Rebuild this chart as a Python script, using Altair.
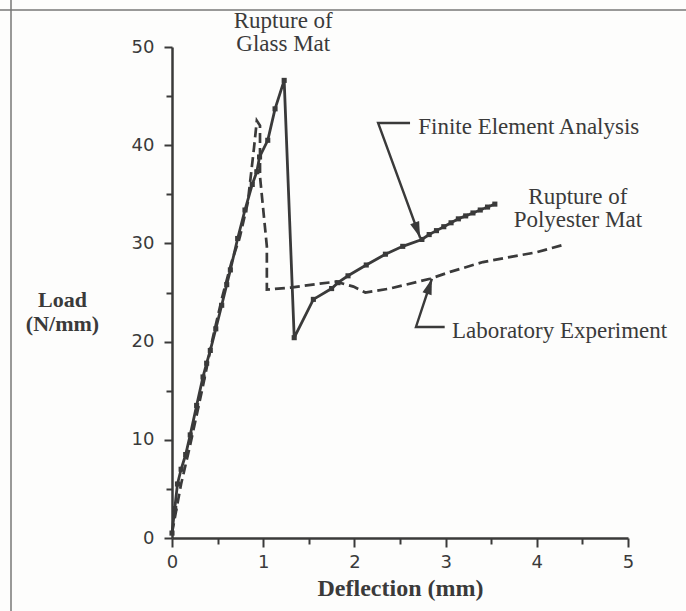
import altair as alt
import pandas as pd

# ---- data ----
fea_x = [0.0, 0.03, 0.06, 0.10, 0.15, 0.20, 0.27, 0.34, 0.38, 0.42, 0.48, 0.545, 0.60, 0.64,
         0.72, 0.80, 0.88, 0.93, 0.96, 1.05, 1.13, 1.23, 1.34, 1.55, 1.75, 1.82, 1.93, 2.13,
         2.34, 2.53, 2.74, 2.82, 2.90, 2.98, 3.06, 3.14, 3.22, 3.30, 3.38, 3.46, 3.54]
fea_y = [0.5, 3.0, 5.5, 7.0, 8.5, 10.5, 13.5, 16.4, 17.8, 19.1, 21.3, 23.7, 25.8, 27.3,
         30.5, 33.4, 36.0, 37.3, 38.8, 40.5, 43.7, 46.6, 20.4, 24.3, 25.4, 26.0, 26.7, 27.8,
         28.9, 29.7, 30.4, 30.9, 31.3, 31.7, 32.1, 32.5, 32.8, 33.1, 33.4, 33.7, 34.0]

lab_x = [0.0, 0.05, 0.10, 0.20, 0.34, 0.45, 0.55, 0.65, 0.745, 0.83, 0.90, 0.93, 0.965,
         0.965, 1.04, 1.04, 1.30, 1.62, 1.80, 1.99, 2.12, 2.39, 2.83, 3.05, 3.41, 3.70,
         4.00, 4.27]
lab_y = [0.5, 3.0, 5.5, 9.5, 15.5, 20.5, 24.5, 28.0, 30.7, 34.1, 39.8, 42.5, 42.0,
         36.8, 29.7, 25.3, 25.5, 25.9, 26.1, 25.6, 25.0, 25.4, 26.4, 27.1, 28.1, 28.6,
         29.1, 29.8]

x_ticks = [i * 0.5 for i in range(11)]
y_ticks = [i * 5 for i in range(11)]

# annotation texts and their anchors (data units)
note_text = ["Rupture of", "Glass Mat", "Rupture of", "Polyester Mat"]
note_x = [1.22, 1.22, 4.45, 4.45]
note_y = [51.9, 49.55, 34.0, 31.65]

label_text = ["Finite Element Analysis", "Laboratory Experiment"]
label_x = [2.70, 3.07]
label_y = [41.1, 20.4]

# arrow leaders: tail end, corner, tip
arrow_g = ["fea", "fea", "fea", "lab", "lab", "lab"]
arrow_x = [2.61, 2.26, 2.72, 2.99, 2.675, 2.85]
arrow_y = [42.26, 42.26, 30.6, 21.49, 21.49, 26.4]
head_x = [2.72, 2.85]
head_y = [30.6, 26.4]
head_angle = [160, 18]

INK = "#3a3a3a"
SERIF = "Liberation Serif"
SANS = "DejaVu Sans"

fea = pd.DataFrame({"x": fea_x, "y": fea_y, "i": list(range(len(fea_x)))})
lab = pd.DataFrame({"x": lab_x, "y": lab_y, "i": list(range(len(lab_x)))})
notes = pd.DataFrame({"x": note_x, "y": note_y, "t": note_text})
labels = pd.DataFrame({"x": label_x, "y": label_y, "t": label_text})
arrows = pd.DataFrame({"g": arrow_g, "x": arrow_x, "y": arrow_y, "i": list(range(len(arrow_x)))})
heads = pd.DataFrame({"x": head_x, "y": head_y, "a": head_angle})

xs = alt.Scale(domain=[0, 5], nice=False, zero=False)
ys = alt.Scale(domain=[0, 50], nice=False, zero=False)

x_axis = alt.Axis(
    values=x_ticks,
    labelExpr="datum.value % 1 === 0 ? format(datum.value, 'd') : ''",
    tickSize={"condition": {"test": "datum.value % 1 === 0", "value": 9}, "value": 6},
    tickWidth=2, tickColor=INK, domainColor=INK, domainWidth=2.5,
    labelFont=SANS, labelFontSize=18, labelColor=INK, labelPadding=6,
    labelFlush=False, labelOverlap=False, grid=False,
    title="Deflection (mm)", titleFont=SERIF, titleFontSize=24, titleFontWeight="bold",
    titleColor=INK, titleY=50, titleBaseline="middle",
)
y_axis = alt.Axis(
    values=y_ticks,
    labelExpr="datum.value % 10 === 0 ? format(datum.value, 'd') : ''",
    tickSize={"condition": {"test": "datum.value % 10 === 0", "value": 8}, "value": 6},
    tickWidth=2, tickColor=INK, domainColor=INK, domainWidth=2.5,
    labelFont=SANS, labelFontSize=18, labelColor=INK, labelPadding=10,
    labelFlush=False, labelOverlap=False, grid=False,
    title=["Load", "(N/mm)"], titleFont=SERIF, titleFontSize=22, titleFontWeight="bold",
    titleColor=INK, titleAngle=0, titleAlign="center", titleBaseline="top",
    titleX=-110, titleY=242, titleLineHeight=24,
)

X = alt.X("x:Q", scale=xs, axis=x_axis)
Y = alt.Y("y:Q", scale=ys, axis=y_axis)

fea_line = alt.Chart(fea).mark_line(color=INK, strokeWidth=2.8, clip=False).encode(
    x=X, y=Y, order="i:Q")
fea_pts = alt.Chart(fea).mark_square(color=INK, size=26, opacity=1).encode(
    x="x:Q", y="y:Q")
lab_line = alt.Chart(lab).mark_line(color=INK, strokeWidth=2.7, strokeDash=[10, 5]).encode(
    x="x:Q", y="y:Q", order="i:Q")

arrow_lines = alt.Chart(arrows).mark_line(color=INK, strokeWidth=2.4).encode(
    x="x:Q", y="y:Q", detail="g:N", order="i:Q")
arrow_heads = alt.Chart(heads).mark_point(
    shape="M0,0 L-0.3,1 L0.3,1 Z", filled=True, color=INK, opacity=1, size=1000,
    strokeWidth=0).encode(
    x="x:Q", y="y:Q", angle=alt.Angle("a:Q", scale=None))

note_marks = alt.Chart(notes).mark_text(
    font=SERIF, fontSize=23, color=INK, align="center", baseline="alphabetic").encode(
    x="x:Q", y="y:Q", text="t:N")
label_marks = alt.Chart(labels).mark_text(
    font=SERIF, fontSize=23, color=INK, align="left", baseline="alphabetic").encode(
    x="x:Q", y="y:Q", text="t:N")

frame_top = alt.Chart(pd.DataFrame({"k": [0]})).mark_rule(color="#777", strokeWidth=1.5).encode(
    x=alt.value(-172), x2=alt.value(514), y=alt.value(-37))
frame_left = alt.Chart(pd.DataFrame({"k": [0]})).mark_rule(color="#777", strokeWidth=1.5).encode(
    x=alt.value(-161), y=alt.value(-47), y2=alt.value(564))

chart = alt.layer(
    fea_line, lab_line, fea_pts, arrow_lines, arrow_heads, note_marks, label_marks,
    frame_top, frame_left,
).properties(
    width=456, height=491,
    autosize=alt.AutoSizeParams(type="none"),
    padding={"left": 172, "top": 47, "right": 58, "bottom": 73},
    background="#fdfdfc",
).configure_view(stroke=None)

chart.save("out.html", embed_options={"renderer": "svg", "actions": False})
